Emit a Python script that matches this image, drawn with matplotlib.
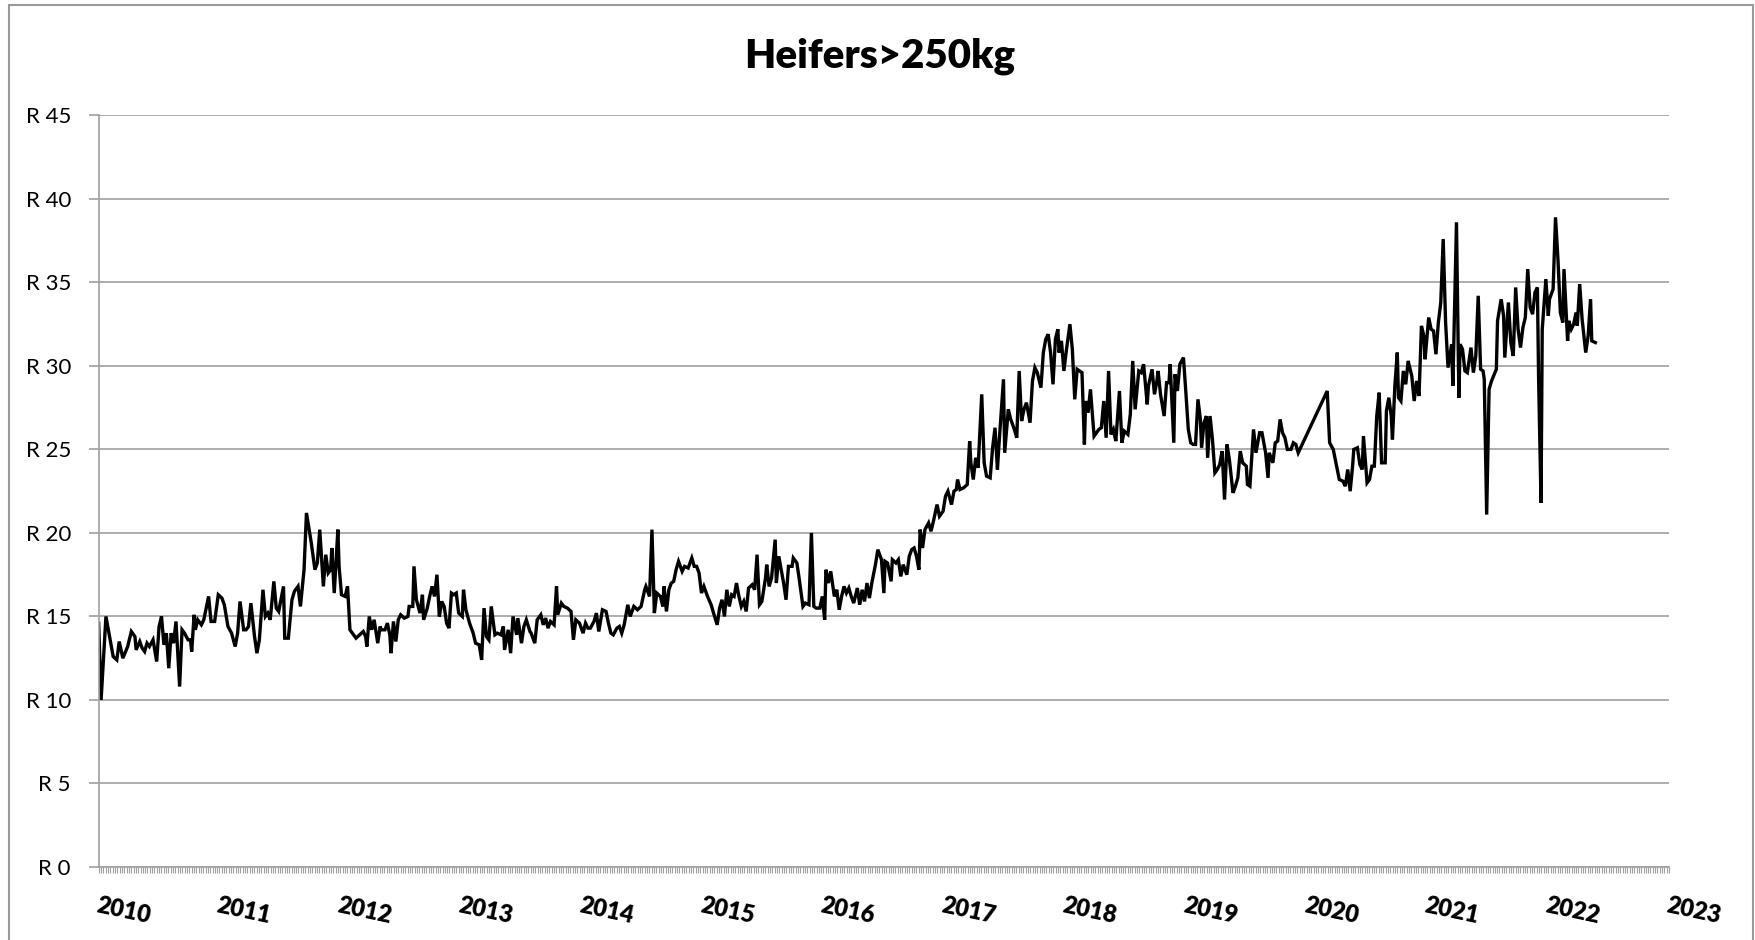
import matplotlib
matplotlib.use("Agg")
import matplotlib.pyplot as plt
from matplotlib.ticker import MultipleLocator
from matplotlib.patches import Rectangle

plt.rcParams['font.family'] = ['Lato', 'DejaVu Sans']

# weekly heifer prices (>250kg), one row per calendar year
years = [
    [2010.00, 2010.02, 2010.06, 2010.09, 2010.12, 2010.15, 2010.17, 2010.20, 2010.24, 2010.27,
     2010.30, 2010.31, 2010.34, 2010.36, 2010.38, 2010.40, 2010.42, 2010.45, 2010.48, 2010.50,
     2010.52, 2010.54, 2010.56, 2010.58, 2010.60, 2010.62, 2010.64, 2010.67, 2010.69, 2010.71,
     2010.74, 2010.76, 2010.77, 2010.79, 2010.80, 2010.82, 2010.85, 2010.87, 2010.91, 2010.93,
     2010.96, 2010.99],
    [2011.02, 2011.04, 2011.07, 2011.10, 2011.13, 2011.15, 2011.17, 2011.20, 2011.22, 2011.24,
     2011.26, 2011.29, 2011.31, 2011.33, 2011.36, 2011.38, 2011.40, 2011.42, 2011.45, 2011.47,
     2011.49, 2011.53, 2011.54, 2011.57, 2011.60, 2011.62, 2011.65, 2011.67, 2011.70, 2011.72,
     2011.76, 2011.79, 2011.81, 2011.83, 2011.86, 2011.88, 2011.90, 2011.92, 2011.93, 2011.95,
     2011.98, 2011.99],
    [2012.01, 2012.04, 2012.06, 2012.08, 2012.11, 2012.13, 2012.16, 2012.19, 2012.21, 2012.22,
     2012.24, 2012.26, 2012.28, 2012.31, 2012.33, 2012.34, 2012.37, 2012.39, 2012.41, 2012.42,
     2012.44, 2012.46, 2012.48, 2012.50, 2012.53, 2012.56, 2012.57, 2012.60, 2012.61, 2012.63,
     2012.66, 2012.68, 2012.69, 2012.72, 2012.74, 2012.76, 2012.78, 2012.80, 2012.82, 2012.84,
     2012.86, 2012.88, 2012.90, 2012.92, 2012.94, 2012.96, 2012.98],
    [2013.01, 2013.02, 2013.04, 2013.07, 2013.10, 2013.12, 2013.15, 2013.17, 2013.19, 2013.21,
     2013.23, 2013.25, 2013.28, 2013.30, 2013.33, 2013.35, 2013.36, 2013.39, 2013.41, 2013.43,
     2013.46, 2013.47, 2013.50, 2013.52, 2013.54, 2013.57, 2013.58, 2013.61, 2013.63, 2013.66,
     2013.68, 2013.70, 2013.72, 2013.74, 2013.77, 2013.79, 2013.80, 2013.83, 2013.85, 2013.88,
     2013.91, 2013.93, 2013.95, 2013.98],
    [2014.01, 2014.03, 2014.05, 2014.07, 2014.10, 2014.12, 2014.14, 2014.17, 2014.20, 2014.22,
     2014.24, 2014.26, 2014.29, 2014.31, 2014.33, 2014.35, 2014.38, 2014.40, 2014.43, 2014.46,
     2014.49, 2014.52, 2014.53, 2014.56, 2014.58, 2014.60, 2014.62, 2014.65, 2014.67, 2014.68,
     2014.70, 2014.72, 2014.74, 2014.76, 2014.78, 2014.80, 2014.83, 2014.85, 2014.88, 2014.91,
     2014.93, 2014.95, 2014.97, 2014.99],
    [2015.01, 2015.04, 2015.07, 2015.09, 2015.12, 2015.14, 2015.16, 2015.18, 2015.20, 2015.22,
     2015.24, 2015.26, 2015.28, 2015.30, 2015.32, 2015.34, 2015.36, 2015.38, 2015.41, 2015.43,
     2015.45, 2015.47, 2015.49, 2015.52, 2015.53, 2015.55, 2015.57, 2015.60, 2015.61, 2015.63,
     2015.65, 2015.67, 2015.69, 2015.71, 2015.74, 2015.75, 2015.78, 2015.80, 2015.83, 2015.85,
     2015.88, 2015.90, 2015.92, 2015.94, 2015.97, 2015.99],
    [2016.01, 2016.02, 2016.04, 2016.06, 2016.09, 2016.11, 2016.13, 2016.15, 2016.17, 2016.19,
     2016.21, 2016.23, 2016.25, 2016.28, 2016.30, 2016.32, 2016.34, 2016.36, 2016.38, 2016.40,
     2016.43, 2016.45, 2016.48, 2016.50, 2016.51, 2016.53, 2016.56, 2016.57, 2016.60, 2016.62,
     2016.64, 2016.66, 2016.69, 2016.71, 2016.73, 2016.75, 2016.77, 2016.79, 2016.80, 2016.82,
     2016.84, 2016.87, 2016.89, 2016.91, 2016.94, 2016.96, 2016.99],
    [2017.01, 2017.03, 2017.06, 2017.08, 2017.10, 2017.11, 2017.13, 2017.16, 2017.19, 2017.21,
     2017.22, 2017.24, 2017.26, 2017.28, 2017.31, 2017.33, 2017.35, 2017.38, 2017.40, 2017.42,
     2017.44, 2017.45, 2017.49, 2017.50, 2017.53, 2017.55, 2017.58, 2017.60, 2017.62, 2017.64,
     2017.66, 2017.68, 2017.71, 2017.73, 2017.75, 2017.77, 2017.80, 2017.82, 2017.84, 2017.86,
     2017.88, 2017.90, 2017.92, 2017.94, 2017.95, 2017.97, 2017.99],
    [2018.01, 2018.04, 2018.06, 2018.08, 2018.10, 2018.12, 2018.14, 2018.16, 2018.17, 2018.19,
     2018.21, 2018.24, 2018.26, 2018.28, 2018.30, 2018.32, 2018.34, 2018.36, 2018.38, 2018.40,
     2018.42, 2018.45, 2018.47, 2018.49, 2018.52, 2018.54, 2018.56, 2018.58, 2018.61, 2018.63,
     2018.65, 2018.68, 2018.69, 2018.72, 2018.74, 2018.76, 2018.77, 2018.79, 2018.82, 2018.84,
     2018.86, 2018.87, 2018.90, 2018.91, 2018.93, 2018.95, 2018.98],
    [2019.00, 2019.02, 2019.04, 2019.06, 2019.08, 2019.10, 2019.12, 2019.13, 2019.15, 2019.17,
     2019.18, 2019.20, 2019.22, 2019.24, 2019.26, 2019.28, 2019.30, 2019.32, 2019.34, 2019.36,
     2019.39, 2019.41, 2019.43, 2019.45, 2019.47, 2019.50, 2019.51, 2019.53, 2019.56, 2019.58,
     2019.61, 2019.63, 2019.66, 2019.68, 2019.69, 2019.72, 2019.74, 2019.76, 2019.78, 2019.80,
     2019.82, 2019.84, 2019.87, 2019.89, 2019.91, 2019.93],
    [2020.17, 2020.19, 2020.22, 2020.25, 2020.27, 2020.30, 2020.32, 2020.34, 2020.36, 2020.38,
     2020.39, 2020.42, 2020.44, 2020.46, 2020.47, 2020.50, 2020.52, 2020.54, 2020.56, 2020.58,
     2020.60, 2020.62, 2020.65, 2020.66, 2020.68, 2020.70, 2020.71, 2020.73, 2020.75, 2020.76,
     2020.78, 2020.80, 2020.82, 2020.84, 2020.87, 2020.89, 2020.91, 2020.93, 2020.95, 2020.97,
     2020.98],
    [2021.01, 2021.03, 2021.05, 2021.07, 2021.09, 2021.11, 2021.13, 2021.15, 2021.17, 2021.20,
     2021.21, 2021.24, 2021.26, 2021.27, 2021.29, 2021.31, 2021.33, 2021.36, 2021.38, 2021.40,
     2021.42, 2021.44, 2021.46, 2021.47, 2021.49, 2021.51, 2021.53, 2021.57, 2021.58, 2021.61,
     2021.63, 2021.64, 2021.67, 2021.69, 2021.71, 2021.73, 2021.75, 2021.77, 2021.79, 2021.81,
     2021.83, 2021.85, 2021.87, 2021.89, 2021.91, 2021.92, 2021.94, 2021.95, 2021.98],
    [2022.00, 2022.01, 2022.04, 2022.06, 2022.08, 2022.10, 2022.12, 2022.13, 2022.16, 2022.17,
     2022.19, 2022.21, 2022.23, 2022.24, 2022.26, 2022.28, 2022.31, 2022.33, 2022.35, 2022.36,
     2022.39],
]

prices = [
    [14.6, 10.0, 15.0, 13.8, 12.6, 12.4, 13.5, 12.5, 13.2, 14.1,
     13.8, 13.0, 13.5, 13.1, 12.9, 13.4, 13.2, 13.6, 12.3, 14.4,
     15.0, 13.3, 14.0, 11.9, 14.0, 13.4, 14.7, 10.8, 14.2, 14.0,
     13.6, 13.6, 12.9, 15.1, 14.2, 14.8, 14.5, 14.8, 16.2, 14.7,
     14.7, 16.3],
    [16.1, 15.7, 14.4, 14.0, 13.2, 14.0, 15.9, 14.2, 14.2, 14.4,
     15.8, 13.8, 12.8, 13.6, 16.6, 15.0, 15.2, 14.8, 17.1, 15.5,
     15.3, 16.8, 13.7, 13.7, 16.0, 16.5, 16.8, 15.6, 17.8, 21.2,
     19.4, 17.8, 18.2, 20.2, 16.8, 18.7, 17.6, 17.8, 19.1, 16.4,
     20.2, 18.0],
    [16.3, 16.2, 16.8, 14.2, 13.9, 13.7, 13.9, 14.1, 13.8, 13.2,
     15.0, 14.2, 14.8, 13.4, 14.4, 14.2, 14.2, 14.6, 13.9, 12.8,
     14.7, 13.5, 14.8, 15.1, 14.9, 15.0, 15.6, 15.6, 18.0, 16.0,
     15.2, 16.3, 14.8, 15.5, 16.2, 16.8, 16.2, 17.5, 15.0, 15.9,
     15.6, 14.6, 14.3, 16.4, 16.3, 16.4, 15.2],
    [15.0, 16.6, 15.4, 14.6, 14.0, 13.4, 13.3, 12.4, 15.5, 13.8,
     13.6, 15.6, 13.9, 14.0, 13.9, 14.4, 13.0, 14.2, 12.8, 15.0,
     13.9, 14.9, 13.4, 14.4, 14.8, 14.1, 14.0, 13.4, 14.8, 15.1,
     14.5, 14.9, 14.3, 14.7, 14.5, 16.8, 15.1, 15.8, 15.6, 15.5,
     15.3, 13.6, 14.8, 14.6],
    [14.0, 14.6, 14.3, 14.3, 14.7, 15.2, 14.1, 15.4, 15.3, 14.6,
     14.0, 13.9, 14.3, 14.4, 14.0, 14.5, 15.7, 15.0, 15.6, 15.4,
     15.6, 16.6, 16.8, 16.2, 20.2, 15.2, 16.4, 16.2, 15.6, 16.8,
     15.3, 16.6, 17.0, 17.1, 17.8, 18.3, 17.7, 18.0, 17.9, 18.5,
     18.0, 18.0, 17.6, 16.4],
    [16.8, 16.2, 15.7, 15.2, 14.5, 15.5, 16.0, 15.0, 16.6, 15.6,
     16.3, 16.2, 17.0, 16.2, 15.6, 15.9, 15.3, 16.7, 16.9, 16.6,
     18.7, 15.7, 15.9, 17.3, 18.1, 16.8, 17.3, 19.6, 17.0, 18.6,
     17.8, 17.0, 16.0, 18.0, 18.0, 18.5, 18.2, 17.2, 15.6, 15.8,
     15.7, 20.0, 15.6, 15.5, 15.5, 16.2],
    [14.8, 17.8, 17.0, 17.7, 16.2, 16.6, 15.4, 16.2, 16.8, 16.4,
     16.7, 16.2, 15.8, 16.7, 15.7, 16.6, 15.9, 17.0, 16.1, 17.0,
     18.1, 19.0, 18.4, 16.4, 18.3, 18.2, 17.1, 18.4, 18.2, 18.4,
     17.4, 18.1, 17.5, 18.6, 19.0, 19.1, 18.6, 17.8, 20.2, 19.1,
     20.2, 20.6, 20.1, 20.7, 21.7, 21.0, 21.3],
    [22.2, 22.5, 21.7, 22.5, 22.6, 23.2, 22.6, 22.7, 22.9, 25.5,
     24.2, 23.2, 24.5, 23.9, 28.3, 24.2, 23.4, 23.3, 25.1, 26.3,
     23.8, 25.0, 29.2, 24.8, 27.4, 26.8, 26.2, 25.7, 29.7, 26.7,
     27.4, 27.8, 26.6, 29.1, 29.9, 29.6, 28.7, 30.8, 31.6, 31.9,
     30.8, 28.9, 31.6, 32.2, 30.8, 31.5, 29.7],
    [30.9, 32.5, 31.0, 28.0, 29.8, 29.7, 29.6, 25.3, 27.9, 27.2,
     28.6, 25.8, 26.0, 26.2, 26.3, 27.9, 25.7, 29.7, 25.9, 26.2,
     25.5, 28.5, 25.4, 26.1, 25.9, 27.1, 30.3, 27.4, 29.7, 29.6,
     30.1, 27.7, 28.8, 29.8, 28.3, 29.1, 29.7, 28.3, 27.0, 29.0,
     29.0, 30.1, 25.4, 29.5, 28.5, 30.1, 30.5],
    [28.4, 26.2, 25.4, 25.3, 25.3, 28.0, 26.8, 25.1, 26.6, 27.0,
     24.5, 27.0, 25.6, 23.6, 23.8, 24.1, 24.9, 22.0, 25.3, 24.4,
     22.4, 22.8, 23.3, 24.9, 24.2, 24.0, 22.9, 22.8, 26.2, 24.8,
     26.0, 26.0, 24.8, 23.3, 24.8, 24.2, 25.4, 25.5, 26.8, 26.0,
     25.7, 25.0, 25.0, 25.4, 25.3, 24.8],
    [28.5, 25.4, 25.0, 23.9, 23.2, 23.1, 22.8, 23.8, 22.5, 24.0,
     25.0, 25.1, 24.1, 23.8, 25.8, 23.0, 23.2, 24.0, 24.0, 27.0,
     28.4, 24.2, 24.2, 27.3, 28.1, 27.0, 25.6, 28.8, 30.8, 28.1,
     27.9, 29.7, 28.9, 30.3, 29.4, 27.9, 29.1, 28.2, 32.4, 31.8,
     30.4],
    [32.9, 32.2, 32.1, 30.7, 32.6, 33.8, 37.6, 32.6, 29.9, 31.3,
     28.8, 38.6, 28.1, 31.3, 31.0, 29.7, 29.6, 31.1, 29.6, 30.6,
     34.2, 29.8, 29.7, 29.2, 21.1, 28.6, 29.1, 29.8, 32.7, 34.0,
     33.0, 30.5, 33.8, 31.4, 30.6, 34.7, 32.2, 31.1, 32.3, 32.9,
     35.8, 33.5, 33.1, 34.4, 34.7, 29.2, 21.8, 32.2, 35.2],
    [33.0, 34.0, 34.6, 38.9, 36.4, 33.2, 32.6, 35.8, 31.5, 32.7,
     32.2, 32.5, 33.2, 32.4, 34.9, 32.8, 30.8, 31.8, 34.0, 31.5,
     31.4],
]

year_labels = [str(y) for y in range(2010, 2024)]
price_ticks = list(range(0, 50, 5))

x = []
y = []
for ys, ps in zip(years, prices):
    assert len(ys) == len(ps), (ys[0], len(ys), len(ps))
    x.extend(ys)
    y.extend(ps)

fig = plt.figure(figsize=(17.56, 9.40), dpi=100)
ax = fig.add_axes([0.0562, 0.0777, 0.8943, 0.7995])

grey = '#a0a0a0'
ax.plot(x, y, color='black', lw=2.4, solid_joinstyle='miter')

ax.set_xlim(2010, 2023)
ax.set_ylim(0, 45)
ax.set_yticks(price_ticks)
ax.set_yticklabels(['R %d' % v for v in price_ticks], fontsize=16)
ax.set_xticks(range(2010, 2024))
ax.set_xticklabels(year_labels, fontsize=17, fontweight='heavy',
                   rotation=-12, ha='left', rotation_mode='anchor')
ax.xaxis.set_minor_locator(MultipleLocator(1 / 52))

ax.yaxis.grid(True, color=grey, lw=1.2)
ax.set_axisbelow(True)
for side in ['top', 'right']:
    ax.spines[side].set_visible(False)
for side in ['left', 'bottom']:
    ax.spines[side].set_color(grey)
    ax.spines[side].set_linewidth(1.2)

ax.tick_params(axis='y', direction='out', length=7, width=1.2, color=grey, pad=13)
ax.tick_params(axis='x', which='both', direction='out', length=4.5, width=0.8,
               color=grey, pad=15)

fig.text(0.501, 0.940, 'Heifers>250kg', ha='center', va='center',
         fontsize=29, fontweight='heavy')

# chart area frame
fig.patches.append(Rectangle((9 / 1756, -0.01), 1744 / 1756, 1.01 - 5 / 940,
                             transform=fig.transFigure, fill=False,
                             edgecolor='#9a9a9a', lw=1.5))

fig.savefig('out.png', dpi=100)
